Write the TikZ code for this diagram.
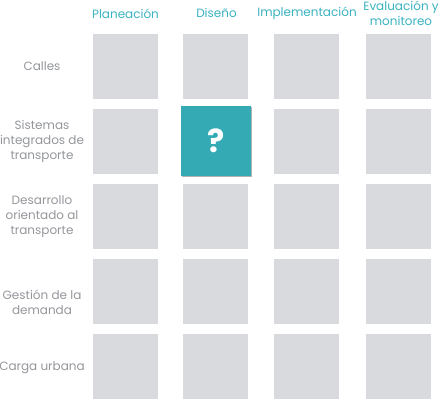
\documentclass[tikz,border=0pt]{standalone}
\usepackage{fontspec}
\setmainfont{Poppins}
\usetikzlibrary{shadows}
\definecolor{cellgray}{HTML}{D9DADD}
\definecolor{tealbox}{HTML}{34AAB5}
\definecolor{headteal}{HTML}{3AB2C0}
\definecolor{labgray}{HTML}{94969B}
\begin{document}
\begin{tikzpicture}[x=1pt,y=-1pt,
  cell/.style={fill=cellgray,minimum size=65pt,inner sep=0pt,draw=none},
  hot/.style={fill=tealbox,minimum size=70pt,inner sep=0pt,draw=none,
    drop shadow={shadow xshift=0.6pt,shadow yshift=-1.2pt,opacity=0.3,fill=black}},
  head/.style={text=headteal,align=center,font=\fontsize{12}{15}\selectfont},
  lab/.style={text=labgray,align=center,font=\fontsize{12}{15}\selectfont}]
\useasboundingbox (0,0) rectangle (440,400);
% cells
\foreach \c/\x in {1/125.5,2/215.5,3/306.5,4/398.5}{
  \foreach \r/\y in {1/66.5,2/141.5,3/216.5,4/291.5,5/366.5}{
    \node[cell] (c\r\c) at (\x,\y) {};
  }
}
\node[hot] (q) at (216,140.5) {\fontsize{32}{32}\selectfont\bfseries\color{white}?};
% headers
\node[head] (h1) at (125.5,13.5) {Planeación};
\node[head] (h2) at (216.5,13) {Diseño};
\node[head] (h3) at (307,13.5) {Implementación};
\node[head] (h4) at (401,13.5) {Evaluación y\\monitoreo};
% row labels
\node[lab] (r1) at (42,66.5) {Calles};
\node[lab] (r2) at (42,141.5) {Sistemas\\integrados de\\transporte};
\node[lab] (r3) at (42,216.5) {Desarrollo\\orientado al\\transporte};
\node[lab] (r4) at (42,302) {Gestión de la\\demanda};
\node[lab] (r5) at (42,368) {Carga urbana};
\end{tikzpicture}
\end{document}
